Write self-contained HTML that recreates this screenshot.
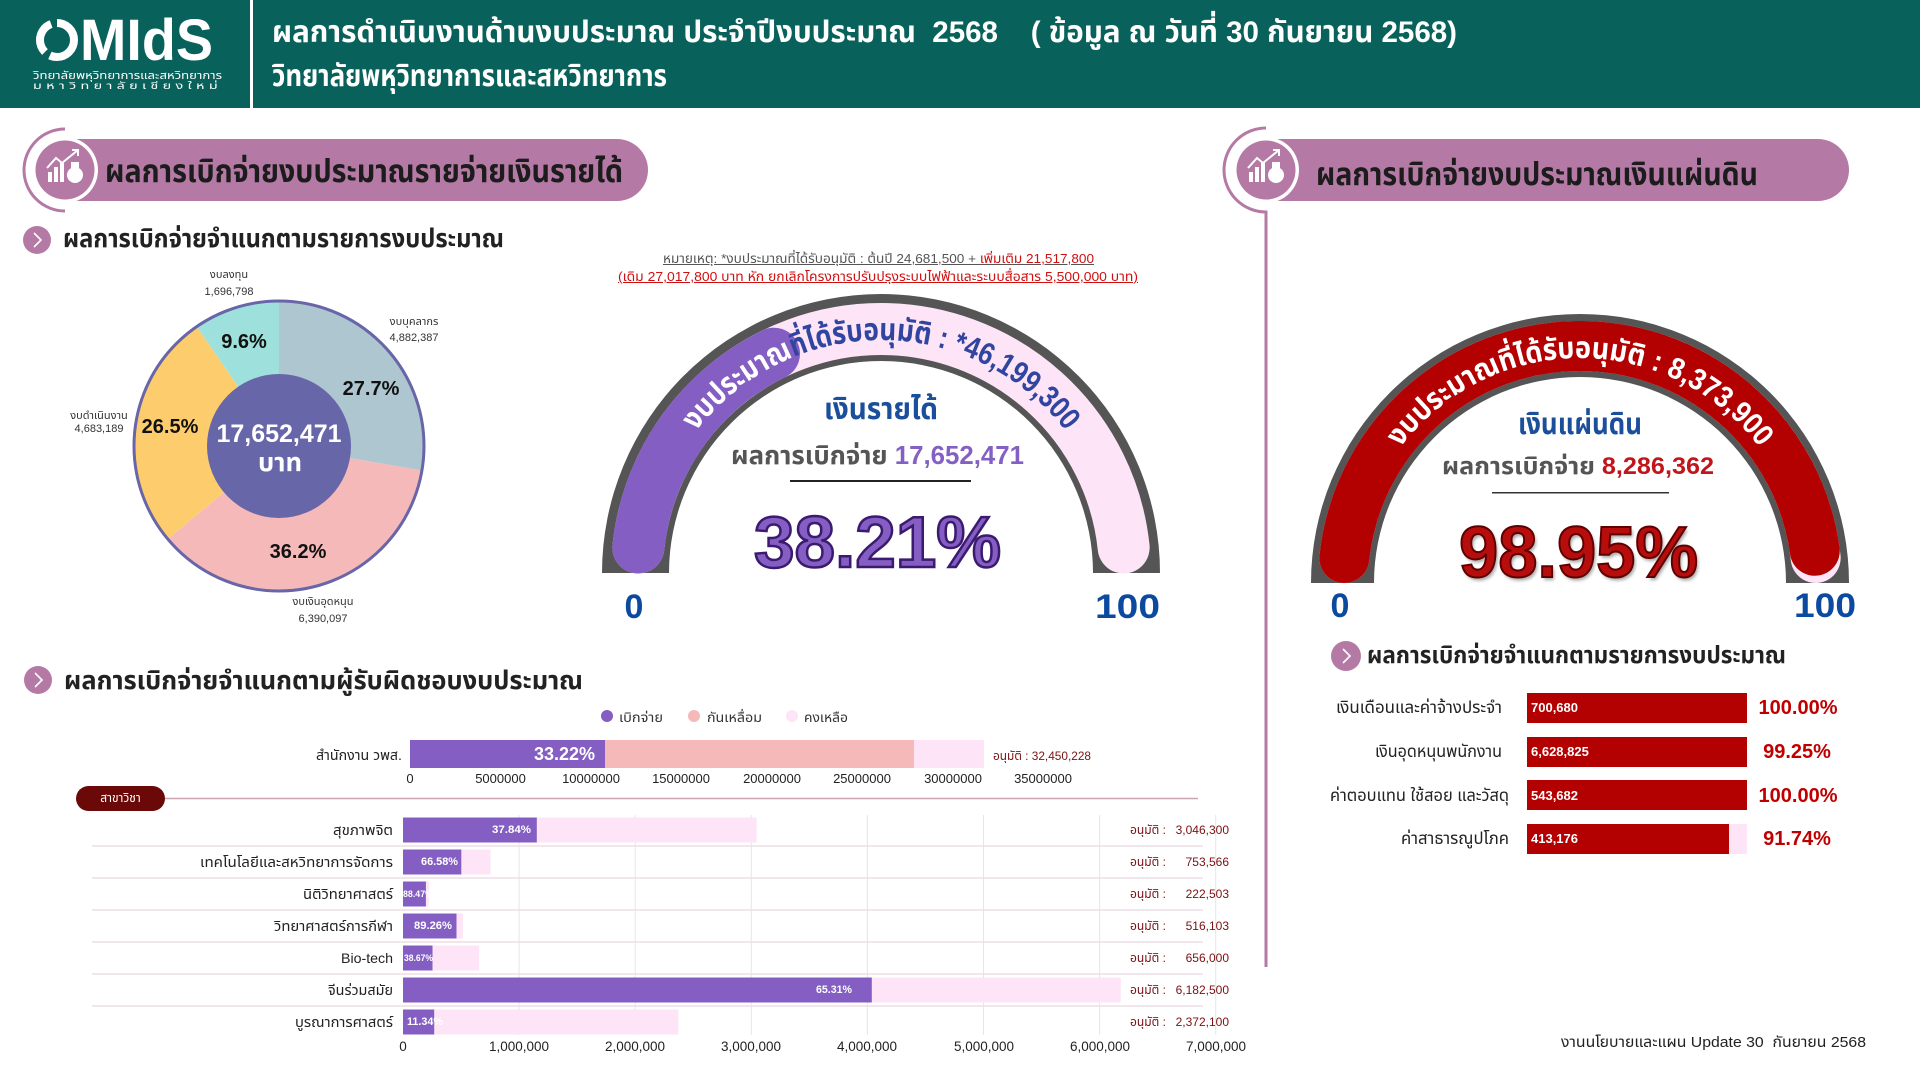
<!DOCTYPE html>
<html lang="th">
<head>
<meta charset="utf-8">
<style>
html,body{margin:0;padding:0;}
body{width:1920px;height:1080px;position:relative;overflow:hidden;background:#fff;}
.t{position:absolute;white-space:nowrap;font-family:"Liberation Sans","Noto Sans Thai","Noto Sans Thai UI","Loma","Garuda","Tlwg Typo","Sarabun","DejaVu Sans",sans-serif;color:#222;}
.t>span{display:inline-block;transform-origin:0 50%;}
.c{text-align:center}
.r{text-align:right}
.b{font-weight:bold}
.w{color:#fff}
.u{text-decoration:underline}
svg text{font-family:"Liberation Sans","Noto Sans Thai","Noto Sans Thai UI","Loma","Garuda","Tlwg Typo","DejaVu Sans",sans-serif;}
</style>
</head>
<body>
<svg width="1920" height="1080" viewBox="0 0 1920 1080" style="position:absolute;left:0;top:0">
  <rect x="0" y="0" width="1920" height="108" fill="#08615a"/>
  <rect x="250" y="0" width="3" height="108" fill="#ffffff"/>
  <circle cx="57" cy="40" r="17" fill="none" stroke="#fff" stroke-width="8" stroke-dasharray="34 6"/>

  <rect x="40" y="139" width="608" height="62" rx="31" fill="#b47aa5"/>
  <path d="M65 129 A41 41 0 0 0 65 211" fill="none" stroke="#b47aa5" stroke-width="3"/>
  <circle cx="65" cy="170" r="33" fill="#fff"/>
  <circle cx="65" cy="170" r="29.5" fill="#b47aa5"/>
  <g fill="#fff">
    <rect x="48" y="172" width="4" height="10"/><rect x="54" y="167" width="4" height="15"/><rect x="60" y="162" width="4" height="20"/>
    <circle cx="75" cy="175" r="8"/><rect x="71" y="162" width="8" height="6"/>
  </g>
  <polyline points="47,168 56,158 62,163 78,150" fill="none" stroke="#fff" stroke-width="2"/>
  <polyline points="72,150 78,150 78,156" fill="none" stroke="#fff" stroke-width="2"/>

  <rect x="1245" y="139" width="604" height="62" rx="31" fill="#b47aa5"/>
  <path d="M1266 128 A42 42 0 0 0 1266 212 L1266 967" fill="none" stroke="#b47aa5" stroke-width="3"/>
  <circle cx="1266" cy="170" r="33" fill="#fff"/>
  <circle cx="1266" cy="170" r="29.5" fill="#b47aa5"/>
  <g fill="#fff">
    <rect x="1249" y="172" width="4" height="10"/><rect x="1255" y="167" width="4" height="15"/><rect x="1261" y="162" width="4" height="20"/>
    <circle cx="1276" cy="175" r="8"/><rect x="1272" y="162" width="8" height="6"/>
  </g>
  <polyline points="1248,168 1257,158 1263,163 1279,150" fill="none" stroke="#fff" stroke-width="2"/>
  <polyline points="1273,150 1279,150 1279,156" fill="none" stroke="#fff" stroke-width="2"/>

  <circle cx="37" cy="240" r="14" fill="#b47aa5"/>
  <polyline points="34,233 41,240 34,247" fill="none" stroke="#fff" stroke-width="1.6"/>
  <circle cx="38" cy="680" r="14" fill="#b47aa5"/>
  <polyline points="35,673 42,680 35,687" fill="none" stroke="#fff" stroke-width="1.6"/>
  <circle cx="1346" cy="656" r="15" fill="#b47aa5"/>
  <polyline points="1343,649 1350,656 1343,663" fill="none" stroke="#fff" stroke-width="1.6"/>

  <path d="M279,446 L279,301 A145,145 0 0 1 421.92,470.48 Z" fill="#adc6cf"/>
  <path d="M279,446 L421.92,470.48 A145,145 0 0 1 167.86,539.13 Z" fill="#f6b9b9"/>
  <path d="M279,446 L167.86,539.13 A145,145 0 0 1 196.76,326.58 Z" fill="#fdcd6d"/>
  <path d="M279,446 L196.76,326.58 A145,145 0 0 1 279,301 Z" fill="#9ee1dc"/>
  <circle cx="279" cy="446" r="145" fill="none" stroke="#6865a8" stroke-width="3"/>
  <circle cx="279" cy="446" r="72" fill="#6766a8"/>

  <path d="M602 573 A279 279 0 0 1 1160 573 L1093 573 A212 212 0 0 0 669 573 Z" fill="#555"/>
  <path d="M638.34 547.5 A244 244 0 0 1 1123.66 547.5" fill="none" stroke="#fde4f6" stroke-width="52" stroke-linecap="round"/>
  <path d="M638.34 547.5 A244 244 0 0 1 774.04 353.7" fill="none" stroke="#845ec2" stroke-width="52" stroke-linecap="round"/>
  <path id="p1" d="M648 573 A233 233 0 0 1 1114 573" fill="none"/>
  <text font-size="31" font-weight="bold" fill="#3045a0"><textPath href="#p1" startOffset="50%" text-anchor="middle" textLength="427" lengthAdjust="spacingAndGlyphs"><tspan fill="#fff">งบประมาณ</tspan>ที่ได้รับอนุมัติ : *46,199,300</textPath></text>

  <path d="M1311 583 A269 269 0 0 1 1849 583 L1786 583 A206 206 0 0 0 1374 583 Z" fill="#555"/>
  <path d="M1344.32 557.98 A237 237 0 0 1 1815.68 557.98" fill="none" stroke="#fde4f6" stroke-width="50" stroke-linecap="round"/>
  <path d="M1344.32 557.98 A237 237 0 0 1 1814.8 550.76" fill="none" stroke="#b30000" stroke-width="50" stroke-linecap="round"/>
  <path id="p2" d="M1355 583 A225 225 0 0 1 1805 583" fill="none"/>
  <text font-size="30" font-weight="bold" fill="#fff"><textPath href="#p2" startOffset="50%" text-anchor="middle" textLength="416" lengthAdjust="spacingAndGlyphs">งบประมาณที่ได้รับอนุมัติ : 8,373,900</textPath></text>

  <rect x="790" y="480" width="181" height="2" fill="#222"/>
  <rect x="1492" y="492" width="177" height="1.5" fill="#333"/>

  <circle cx="607" cy="716" r="6" fill="#845ec2"/>
  <circle cx="694" cy="716" r="6" fill="#f6b9b9"/>
  <circle cx="792" cy="716" r="6" fill="#fde4f6"/>

  <rect x="410" y="740" width="195" height="28" fill="#845ec2"/>
  <rect x="605" y="740" width="309" height="28" fill="#f6b9b9"/>
  <rect x="914" y="740" width="70" height="28" fill="#fde4f6"/>

  <line x1="165" y1="798.5" x2="1198" y2="798.5" stroke="#c9a3ad" stroke-width="1.5"/>
  <rect x="76" y="786" width="89" height="25" rx="12.5" fill="#6b0808"/>

  <g stroke="#e6e6e6" stroke-width="1">
    <line x1="519.1" y1="815" x2="519.1" y2="1035"/><line x1="635.2" y1="815" x2="635.2" y2="1035"/>
    <line x1="751.3" y1="815" x2="751.3" y2="1035"/><line x1="867.4" y1="815" x2="867.4" y2="1035"/>
    <line x1="983.5" y1="815" x2="983.5" y2="1035"/><line x1="1099.6" y1="815" x2="1099.6" y2="1035"/>
    <line x1="1215.7" y1="815" x2="1215.7" y2="1035"/>
  </g>
  <g stroke="#ecdde5" stroke-width="1.5">
    <line x1="92" y1="846" x2="1203" y2="846"/><line x1="92" y1="878" x2="1203" y2="878"/>
    <line x1="92" y1="910" x2="1203" y2="910"/><line x1="92" y1="942" x2="1203" y2="942"/>
    <line x1="92" y1="974" x2="1203" y2="974"/><line x1="92" y1="1006" x2="1203" y2="1006"/>
  </g>
  <g fill="#fde4f6">
    <rect x="403" y="817.5" width="353.7" height="25"/>
    <rect x="403" y="849.5" width="87.5" height="25"/>
    <rect x="403" y="881.5" width="25.8" height="25"/>
    <rect x="403" y="913.5" width="59.9" height="25"/>
    <rect x="403" y="945.5" width="76.2" height="25"/>
    <rect x="403" y="977.5" width="717.8" height="25"/>
    <rect x="403" y="1009.5" width="275.4" height="25"/>
  </g>
  <g fill="#845ec2">
    <rect x="403" y="817.5" width="133.8" height="25"/>
    <rect x="403" y="849.5" width="58.3" height="25"/>
    <rect x="403" y="881.5" width="22.9" height="25"/>
    <rect x="403" y="913.5" width="53.5" height="25"/>
    <rect x="403" y="945.5" width="29.5" height="25"/>
    <rect x="403" y="977.5" width="468.8" height="25"/>
    <rect x="403" y="1009.5" width="31.2" height="25"/>
  </g>

  <rect x="1527" y="693" width="220" height="30" fill="#b30000"/>
  <rect x="1527" y="737" width="220" height="30" fill="#b30000"/>
  <rect x="1527" y="780" width="220" height="30" fill="#b30000"/>
  <rect x="1527" y="824" width="220" height="30" fill="#fde4f6"/>
  <rect x="1527" y="824" width="202" height="30" fill="#b30000"/>
</svg>

<div class="t f b w" style="left:80px;top:11px;width:133px;height:60px;line-height:60px;font-size:58px;"><span>MIdS</span></div>
<div class="t f w" style="left:33px;top:69px;width:189px;height:14px;line-height:14px;font-size:11px;"><span>วิทยาลัยพหุวิทยาการและสหวิทยาการ</span></div>
<div class="t f w" style="left:33px;top:80px;width:189px;height:13px;line-height:13px;font-size:10px;letter-spacing:3px;"><span>มหาวิทยาลัยเชียงใหม่</span></div>
<div class="t f b w" style="left:272px;top:13px;width:1185px;height:40px;line-height:40px;font-size:30px;"><span>ผลการดำเนินงานด้านงบประมาณ ประจำปีงบประมาณ&nbsp; 2568 &nbsp;&nbsp; ( ข้อมูล ณ วันที่ 30 กันยายน 2568)</span></div>
<div class="t f b w" style="left:272px;top:57px;width:395px;height:40px;line-height:40px;font-size:30px;"><span>วิทยาลัยพหุวิทยาการและสหวิทยาการ</span></div>

<div class="t f b" style="left:105px;top:149px;width:518px;height:44px;line-height:44px;font-size:32px;color:#1c1c1c;"><span>ผลการเบิกจ่ายงบประมาณรายจ่ายเงินรายได้</span></div>
<div class="t f b" style="left:1316px;top:152px;width:442px;height:44px;line-height:44px;font-size:32px;color:#1c1c1c;"><span>ผลการเบิกจ่ายงบประมาณเงินแผ่นดิน</span></div>
<div class="t f b" style="left:63px;top:220px;width:441px;height:36px;line-height:36px;font-size:26px;"><span>ผลการเบิกจ่ายจำแนกตามรายการงบประมาณ</span></div>

<div class="t c" style="left:179px;top:268px;width:100px;height:15px;line-height:15px;font-size:11px;color:#333;">งบลงทุน</div>
<div class="t c" style="left:179px;top:285px;width:100px;height:15px;line-height:15px;font-size:11px;color:#333;">1,696,798</div>
<div class="t c" style="left:364px;top:315px;width:100px;height:15px;line-height:15px;font-size:11px;color:#333;">งบบุคลากร</div>
<div class="t c" style="left:364px;top:331px;width:100px;height:15px;line-height:15px;font-size:11px;color:#333;">4,882,387</div>
<div class="t c" style="left:49px;top:409px;width:100px;height:15px;line-height:15px;font-size:11px;color:#333;">งบดำเนินงาน</div>
<div class="t c" style="left:49px;top:422px;width:100px;height:15px;line-height:15px;font-size:11px;color:#333;">4,683,189</div>
<div class="t c" style="left:273px;top:595px;width:100px;height:15px;line-height:15px;font-size:11px;color:#333;">งบเงินอุดหนุน</div>
<div class="t c" style="left:273px;top:612px;width:100px;height:15px;line-height:15px;font-size:11px;color:#333;">6,390,097</div>
<div class="t c b" style="left:194px;top:328px;width:100px;height:28px;line-height:28px;font-size:20px;color:#111;">9.6%</div>
<div class="t c b" style="left:321px;top:375px;width:100px;height:28px;line-height:28px;font-size:20px;color:#111;">27.7%</div>
<div class="t c b" style="left:120px;top:413px;width:100px;height:28px;line-height:28px;font-size:20px;color:#111;">26.5%</div>
<div class="t c b" style="left:248px;top:538px;width:100px;height:28px;line-height:28px;font-size:20px;color:#111;">36.2%</div>
<div class="t c b w" style="left:199px;top:418px;width:160px;height:32px;line-height:32px;font-size:25px;">17,652,471</div>
<div class="t f b w" style="left:258px;top:446px;width:44px;height:32px;line-height:32px;font-size:26px;"><span>บาท</span></div>

<div class="t f" style="left:663px;top:250px;width:431px;height:17px;line-height:17px;font-size:13px;color:#555;"><span class="u">หมายเหตุ: *งบประมาณที่ได้รับอนุมัติ : ต้นปี 24,681,500 + <span style="color:#d01010">เพิ่มเติม 21,517,800</span></span></div>
<div class="t f" style="left:618px;top:268px;width:520px;height:17px;line-height:17px;font-size:13px;color:#d01010;"><span class="u">(เดิม 27,017,800 บาท หัก ยกเลิกโครงการปรับปรุงระบบไฟฟ้าและระบบสื่อสาร 5,500,000 บาท)</span></div>

<div class="t f b" style="left:824px;top:390px;width:114px;height:40px;line-height:40px;font-size:30px;color:#1b4e9b;"><span>เงินรายได้</span></div>
<div class="t f b" style="left:731px;top:437px;width:293px;height:36px;line-height:36px;font-size:26px;color:#555;"><span>ผลการเบิกจ่าย <span style="color:#8460c4">17,652,471</span></span></div>
<div class="t f b" style="left:754px;top:503px;width:247px;height:80px;line-height:80px;font-size:72px;color:#845ec2;-webkit-text-stroke:2.5px #3b1a70;"><span>38.21%</span></div>
<div class="t c b" style="left:604px;top:586px;width:60px;height:42px;line-height:42px;font-size:34px;color:#0c4aa0;">0</div>
<div class="t f b" style="left:1095px;top:586px;width:65px;height:42px;line-height:42px;font-size:34px;color:#0c4aa0;"><span>100</span></div>

<div class="t f b" style="left:1518px;top:405px;width:124px;height:40px;line-height:40px;font-size:30px;color:#1b4e9b;"><span>เงินแผ่นดิน</span></div>
<div class="t f b" style="left:1442px;top:450px;width:272px;height:34px;line-height:34px;font-size:24px;color:#555;"><span>ผลการเบิกจ่าย <span style="color:#c0161b">8,286,362</span></span></div>
<div class="t f b" style="left:1459px;top:513px;width:239px;height:80px;line-height:80px;font-size:72px;color:#b80d0d;-webkit-text-stroke:2px #5e0000;text-shadow:2px 3px 3px rgba(0,0,0,.35);"><span>98.95%</span></div>
<div class="t c b" style="left:1310px;top:585px;width:60px;height:42px;line-height:42px;font-size:34px;color:#0c4aa0;">0</div>
<div class="t f b" style="left:1794px;top:585px;width:62px;height:42px;line-height:42px;font-size:34px;color:#0c4aa0;"><span>100</span></div>

<div class="t f b" style="left:64px;top:662px;width:519px;height:36px;line-height:36px;font-size:26px;"><span>ผลการเบิกจ่ายจำแนกตามผู้รับผิดชอบงบประมาณ</span></div>
<div class="t f" style="left:619px;top:709px;width:44px;height:18px;line-height:18px;font-size:13px;color:#333;"><span>เบิกจ่าย</span></div>
<div class="t f" style="left:707px;top:709px;width:55px;height:18px;line-height:18px;font-size:13px;color:#333;"><span>กันเหลื่อม</span></div>
<div class="t f" style="left:804px;top:709px;width:44px;height:18px;line-height:18px;font-size:13px;color:#333;"><span>คงเหลือ</span></div>

<div class="t f" style="left:316px;top:745px;width:86px;height:20px;line-height:20px;font-size:14px;"><span>สำนักงาน วพส.</span></div>
<div class="t r b w" style="left:517px;top:742px;width:78px;height:24px;line-height:24px;font-size:18px;">33.22%</div>
<div class="t f" style="left:993px;top:747px;width:98px;height:18px;line-height:18px;font-size:12px;color:#7a1212;"><span>อนุมัติ : 32,450,228</span></div>

<div class="t c" style="left:370px;top:770px;width:80px;height:18px;line-height:18px;font-size:13px;">0</div>
<div class="t c" style="left:460.5px;top:770px;width:80px;height:18px;line-height:18px;font-size:13px;">5000000</div>
<div class="t c" style="left:551px;top:770px;width:80px;height:18px;line-height:18px;font-size:13px;">10000000</div>
<div class="t c" style="left:641px;top:770px;width:80px;height:18px;line-height:18px;font-size:13px;">15000000</div>
<div class="t c" style="left:732px;top:770px;width:80px;height:18px;line-height:18px;font-size:13px;">20000000</div>
<div class="t c" style="left:822px;top:770px;width:80px;height:18px;line-height:18px;font-size:13px;">25000000</div>
<div class="t c" style="left:913px;top:770px;width:80px;height:18px;line-height:18px;font-size:13px;">30000000</div>
<div class="t c" style="left:1003px;top:770px;width:80px;height:18px;line-height:18px;font-size:13px;">35000000</div>

<div class="t c w" style="left:76px;top:790px;width:89px;height:17px;line-height:17px;font-size:12px;">สาขาวิชา</div>

<div class="t f" style="left:333px;top:820px;width:60px;height:20px;line-height:20px;font-size:14px;"><span>สุขภาพจิต</span></div>
<div class="t f" style="left:200px;top:852px;width:193px;height:20px;line-height:20px;font-size:14px;"><span>เทคโนโลยีและสหวิทยาการจัดการ</span></div>
<div class="t f" style="left:303px;top:884px;width:90px;height:20px;line-height:20px;font-size:14px;"><span>นิติวิทยาศาสตร์</span></div>
<div class="t f" style="left:274px;top:916px;width:119px;height:20px;line-height:20px;font-size:14px;"><span>วิทยาศาสตร์การกีฬา</span></div>
<div class="t f" style="left:341px;top:948px;width:52px;height:20px;line-height:20px;font-size:14px;"><span>Bio-tech</span></div>
<div class="t f" style="left:328px;top:980px;width:65px;height:20px;line-height:20px;font-size:14px;"><span>จีนร่วมสมัย</span></div>
<div class="t f" style="left:295px;top:1012px;width:98px;height:20px;line-height:20px;font-size:14px;"><span>บูรณาการศาสตร์</span></div>

<div class="t f b w" style="left:492px;top:822px;width:39px;height:16px;line-height:16px;font-size:11px;"><span>37.84%</span></div>
<div class="t f b w" style="left:421px;top:854px;width:37px;height:16px;line-height:16px;font-size:11px;"><span>66.58%</span></div>
<div class="t f b w" style="left:403px;top:887px;width:30px;height:14px;line-height:14px;font-size:9px;"><span>88.47%</span></div>
<div class="t f b w" style="left:414px;top:918px;width:38px;height:16px;line-height:16px;font-size:11px;"><span>89.26%</span></div>
<div class="t f b w" style="left:404px;top:951px;width:29px;height:14px;line-height:14px;font-size:9px;"><span>38.67%</span></div>
<div class="t f b w" style="left:816px;top:982px;width:36px;height:16px;line-height:16px;font-size:11px;"><span>65.31%</span></div>
<div class="t f b w" style="left:407px;top:1014px;width:36px;height:16px;line-height:16px;font-size:11px;"><span>11.34%</span></div>

<div class="t f" style="left:1130px;top:822px;width:36px;height:17px;line-height:17px;font-size:12px;color:#7a1010;"><span>อนุมัติ :</span></div>
<div class="t r" style="left:1159px;top:822px;width:70px;height:17px;line-height:17px;font-size:12px;color:#7a1010;">3,046,300</div>
<div class="t f" style="left:1130px;top:854px;width:36px;height:17px;line-height:17px;font-size:12px;color:#7a1010;"><span>อนุมัติ :</span></div>
<div class="t r" style="left:1159px;top:854px;width:70px;height:17px;line-height:17px;font-size:12px;color:#7a1010;">753,566</div>
<div class="t f" style="left:1130px;top:886px;width:36px;height:17px;line-height:17px;font-size:12px;color:#7a1010;"><span>อนุมัติ :</span></div>
<div class="t r" style="left:1159px;top:886px;width:70px;height:17px;line-height:17px;font-size:12px;color:#7a1010;">222,503</div>
<div class="t f" style="left:1130px;top:918px;width:36px;height:17px;line-height:17px;font-size:12px;color:#7a1010;"><span>อนุมัติ :</span></div>
<div class="t r" style="left:1159px;top:918px;width:70px;height:17px;line-height:17px;font-size:12px;color:#7a1010;">516,103</div>
<div class="t f" style="left:1130px;top:950px;width:36px;height:17px;line-height:17px;font-size:12px;color:#7a1010;"><span>อนุมัติ :</span></div>
<div class="t r" style="left:1159px;top:950px;width:70px;height:17px;line-height:17px;font-size:12px;color:#7a1010;">656,000</div>
<div class="t f" style="left:1130px;top:982px;width:36px;height:17px;line-height:17px;font-size:12px;color:#7a1010;"><span>อนุมัติ :</span></div>
<div class="t r" style="left:1159px;top:982px;width:70px;height:17px;line-height:17px;font-size:12px;color:#7a1010;">6,182,500</div>
<div class="t f" style="left:1130px;top:1014px;width:36px;height:17px;line-height:17px;font-size:12px;color:#7a1010;"><span>อนุมัติ :</span></div>
<div class="t r" style="left:1159px;top:1014px;width:70px;height:17px;line-height:17px;font-size:12px;color:#7a1010;">2,372,100</div>

<div class="t c" style="left:363px;top:1038px;width:80px;height:18px;line-height:18px;font-size:13.5px;">0</div>
<div class="t c" style="left:479px;top:1038px;width:80px;height:18px;line-height:18px;font-size:13.5px;">1,000,000</div>
<div class="t c" style="left:595px;top:1038px;width:80px;height:18px;line-height:18px;font-size:13.5px;">2,000,000</div>
<div class="t c" style="left:711px;top:1038px;width:80px;height:18px;line-height:18px;font-size:13.5px;">3,000,000</div>
<div class="t c" style="left:827px;top:1038px;width:80px;height:18px;line-height:18px;font-size:13.5px;">4,000,000</div>
<div class="t c" style="left:944px;top:1038px;width:80px;height:18px;line-height:18px;font-size:13.5px;">5,000,000</div>
<div class="t c" style="left:1060px;top:1038px;width:80px;height:18px;line-height:18px;font-size:13.5px;">6,000,000</div>
<div class="t c" style="left:1176px;top:1038px;width:80px;height:18px;line-height:18px;font-size:13.5px;">7,000,000</div>

<div class="t f b" style="left:1367px;top:639px;width:419px;height:34px;line-height:34px;font-size:24px;"><span>ผลการเบิกจ่ายจำแนกตามรายการงบประมาณ</span></div>
<div class="t f" style="left:1336px;top:696px;width:166px;height:24px;line-height:24px;font-size:17px;"><span>เงินเดือนและค่าจ้างประจำ</span></div>
<div class="t f" style="left:1375px;top:740px;width:127px;height:24px;line-height:24px;font-size:17px;"><span>เงินอุดหนุนพนักงาน</span></div>
<div class="t f" style="left:1330px;top:784px;width:179px;height:24px;line-height:24px;font-size:17px;"><span>ค่าตอบแทน ใช้สอย และวัสดุ</span></div>
<div class="t f" style="left:1401px;top:827px;width:108px;height:24px;line-height:24px;font-size:17px;"><span>ค่าสาธารณูปโภค</span></div>
<div class="t b w" style="left:1531px;top:699px;width:120px;height:18px;line-height:18px;font-size:13px;">700,680</div>
<div class="t b w" style="left:1531px;top:743px;width:120px;height:18px;line-height:18px;font-size:13px;">6,628,825</div>
<div class="t b w" style="left:1531px;top:787px;width:120px;height:18px;line-height:18px;font-size:13px;">543,682</div>
<div class="t b w" style="left:1531px;top:830px;width:120px;height:18px;line-height:18px;font-size:13px;">413,176</div>
<div class="t c b" style="left:1748px;top:694px;width:100px;height:28px;line-height:28px;font-size:20px;color:#c00000;">100.00%</div>
<div class="t c b" style="left:1747px;top:738px;width:100px;height:28px;line-height:28px;font-size:20px;color:#c00000;">99.25%</div>
<div class="t c b" style="left:1748px;top:782px;width:100px;height:28px;line-height:28px;font-size:20px;color:#c00000;">100.00%</div>
<div class="t c b" style="left:1747px;top:825px;width:100px;height:28px;line-height:28px;font-size:20px;color:#c00000;">91.74%</div>

<div class="t f" style="left:1561px;top:1032px;width:305px;height:22px;line-height:22px;font-size:15px;"><span>งานนโยบายและแผน Update 30&nbsp; กันยายน 2568</span></div>

<script>
function fit(){
  document.querySelectorAll('.f').forEach(function(d){
    var s=d.firstElementChild; if(!s) return;
    s.style.transform='none';
    var n=s.getBoundingClientRect().width;
    var w=parseFloat(d.style.width);
    if(n>0&&w>0) s.style.transform='scaleX('+(w/n).toFixed(4)+')';
  });
}
fit();
if(document.fonts&&document.fonts.ready){document.fonts.ready.then(fit);}
window.addEventListener('load',fit);
</script>
</body>
</html>
